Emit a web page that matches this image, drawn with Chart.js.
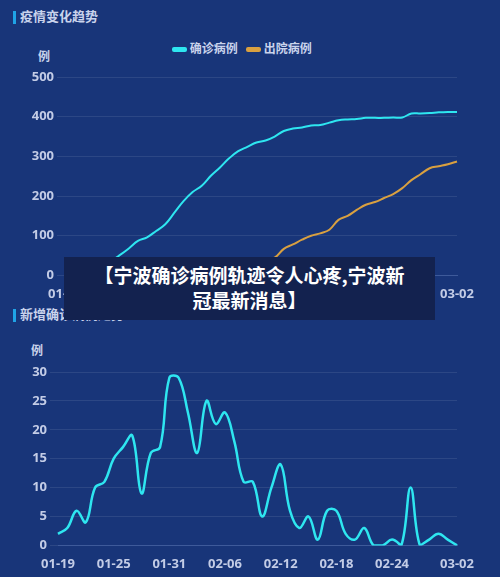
<!DOCTYPE html>
<html><head><meta charset="utf-8">
<script src="https://cdn.jsdelivr.net/npm/chart.js@4/dist/chart.umd.min.js"></script>
<style>
body{margin:0;width:500px;height:577px;background:#183579;overflow:hidden;position:relative;font-family:"Noto Sans CJK SC","Noto Sans",sans-serif;}
.t{position:absolute;color:#c9d3ec;font-size:13px;font-weight:bold;}
.bar{position:absolute;width:3px;height:13px;background:#1fa3e6;}
canvas{position:absolute;}
#ov{position:absolute;left:64px;top:257px;width:371px;height:63px;background:#13224f;color:#fff;font-weight:bold;font-size:19px;line-height:25px;text-align:center;padding-top:5px;box-sizing:border-box;}
</style></head><body>
<div class="bar" style="left:13px;top:11px"></div><div class="t" style="left:20px;top:6px">疫情变化趋势</div>
<div class="bar" style="left:13px;top:309px"></div><div class="t" style="left:20px;top:304px">新增确诊病例趋势</div>
<div class="t" style="left:38px;top:47px;font-size:12px">例</div>
<div class="t" style="left:31px;top:341px;font-size:12px">例</div>
<div style="position:absolute;left:172px;top:39px;font-size:12px;color:#c9d3ec;font-weight:bold">
<span style="display:inline-block;width:15px;height:5px;background:#2ee6f0;border-radius:2px;vertical-align:middle"></span> 确诊病例 &nbsp;
<span style="display:inline-block;width:15px;height:5px;background:#d9a040;border-radius:2px;vertical-align:middle"></span> 出院病例</div>
<canvas id="c1"></canvas>
<canvas id="c2"></canvas>
<div id="ov">【宁波确诊病例轨迹令人心疼,宁波新<br>冠最新消息】</div>
<script>
const dates=["01-19","01-20","01-21","01-22","01-23","01-24","01-25","01-26","01-27","01-28","01-29","01-30","01-31","02-01","02-02","02-03","02-04","02-05","02-06","02-07","02-08","02-09","02-10","02-11","02-12","02-13","02-14","02-15","02-16","02-17","02-18","02-19","02-20","02-21","02-22","02-23","02-24","02-25","02-26","02-27","02-28","02-29","03-01","03-02"];
const confirmed=[2,5,11,15,25,36,51,68,87,96,112,129,158,187,210,226,251,272,295,313,324,335,340,350,364,370,373,378,379,385,391,393,394,397,397,397,398,398,408,408,409,411,412,412];
const discharged=[0,0,0,0,0,1,1,2,3,4,6,8,10,13,16,20,24,27,30,31,32,35,40,45,67,78,90,100,106,115,140,150,165,178,185,195,205,220,240,255,270,275,280,287];
const daily=[2,3,6,4,10,11,15,17,19,9,16,17,29,29,23,16,25,21,23,18,11,11,5,10,14,6,3,5,1,6,6,2,1,3,0,0,1,0,10,0,1,2,1,0];
const tickColor='#c3cce6', gridColor='rgba(255,255,255,0.09)';
function opts(max,step,yw,pad){return{responsive:false,animation:false,layout:{padding:pad},
plugins:{legend:{display:false},tooltip:{enabled:false}},
elements:{point:{radius:0},line:{tension:0.4}},
scales:{x:{offset:false,grid:{display:false},border:{color:'#3e5a9a'},
ticks:{color:tickColor,font:{size:13,weight:'bold',family:'Noto Sans'},autoSkip:false,maxRotation:0,
callback:(v,i)=>(i%6===0&&i<42)||i===43?dates[i]:''}},
y:{min:0,max:max,ticks:{stepSize:step,color:tickColor,font:{size:13,weight:'bold',family:'Noto Sans'}},
grid:{color:gridColor},border:{display:false},afterFit:a=>{a.width=yw}}}}}
function mk(id,l,t,w,h){const c=document.getElementById(id);c.width=w;c.height=h;c.style.left=l+'px';c.style.top=t+'px';return c;}
new Chart(mk('c1',0,65,480,245),{type:'line',data:{labels:dates,datasets:[
{data:confirmed,borderColor:'#2ee6f0',borderWidth:2},
{data:discharged,borderColor:'#d9a040',borderWidth:2}]},
options:opts(500,100,65,{top:12,right:23,bottom:5})});
new Chart(mk('c2',0,360,480,217),{type:'line',data:{labels:dates,datasets:[
{data:daily,borderColor:'#2ee6f0',borderWidth:2.5}]},
options:opts(30,5,58,{top:12,right:23,bottom:2})});
</script></body></html>
